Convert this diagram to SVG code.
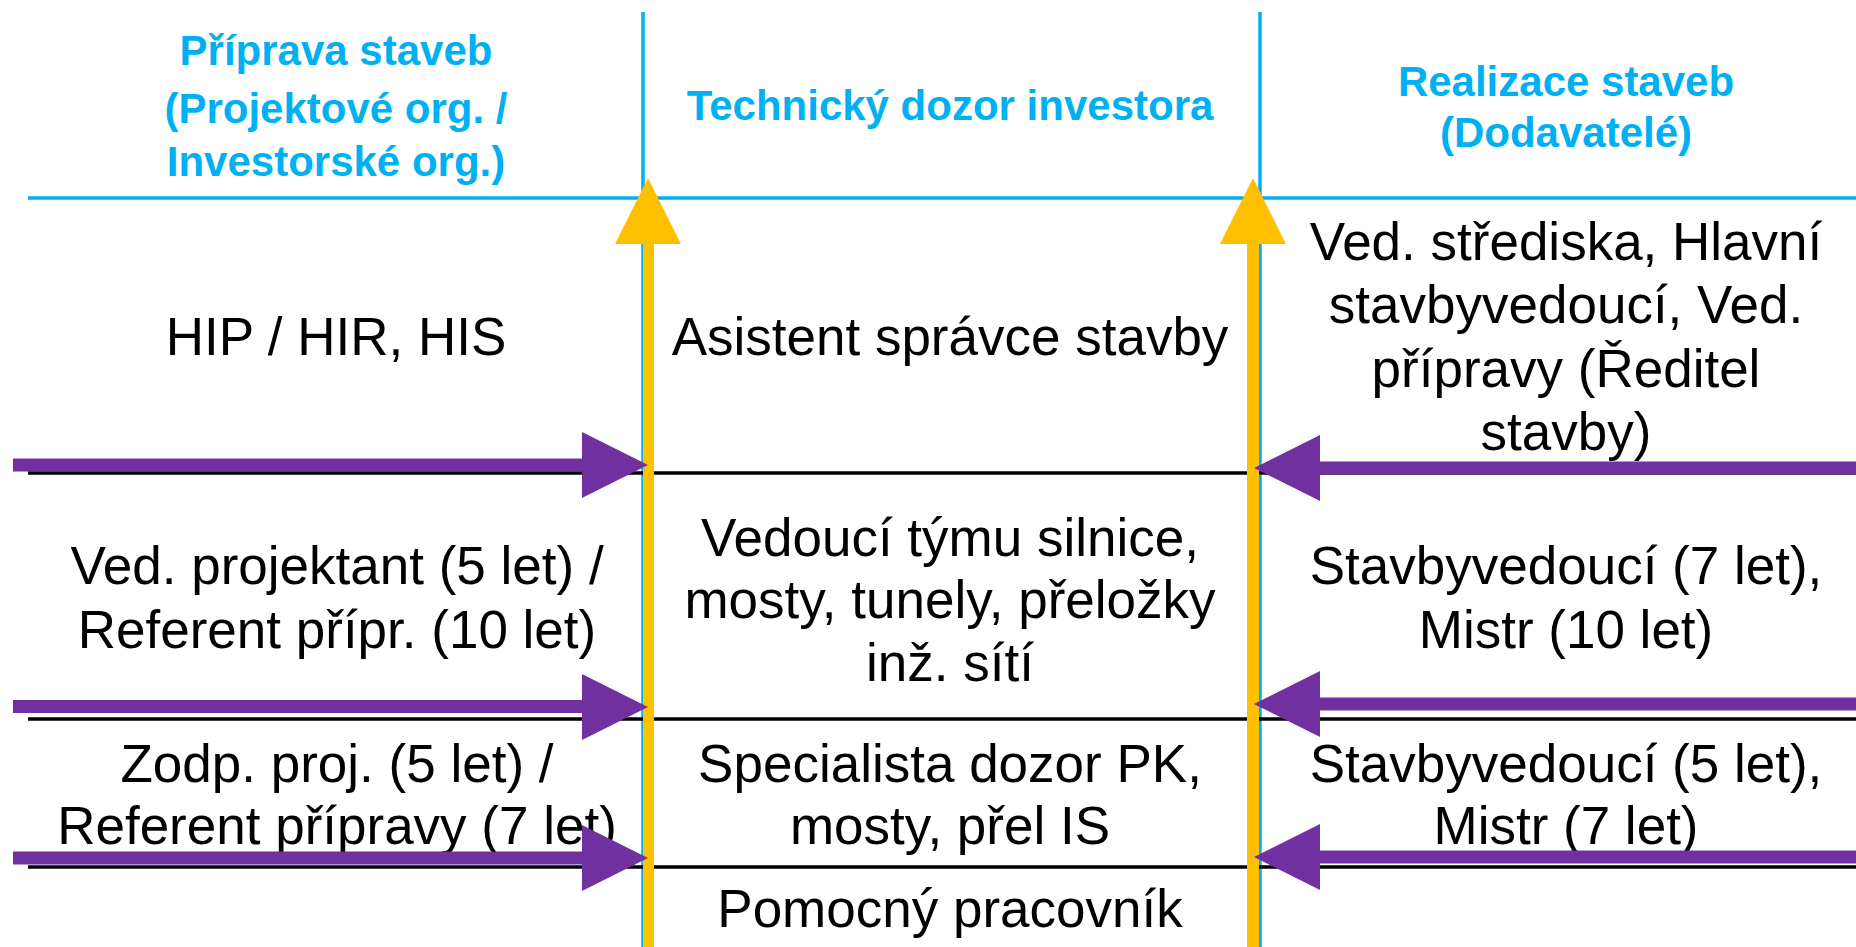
<svg xmlns="http://www.w3.org/2000/svg" width="1856" height="947" viewBox="0 0 1856 947">
<style>
.hd{font-family:"Liberation Sans",Arial,sans-serif;font-weight:bold;font-size:42px;fill:#00B0F0;text-anchor:middle}
.tx{font-family:"Liberation Sans",Arial,sans-serif;font-size:53px;fill:#000;text-anchor:middle}
.bl{stroke:#00B0F0;stroke-width:3.5;fill:none}
.rw{stroke:#000;stroke-width:3.5;fill:none}
.ya{fill:#FFC000}
.pa{fill:#7030A0}
</style>
<rect width="1856" height="947" fill="#fff"/>
<g id="grid">
<line class="bl" x1="643" y1="12" x2="643" y2="947"/>
<line class="bl" x1="1260" y1="12" x2="1260" y2="947"/>
<line class="bl" x1="28" y1="198" x2="1856" y2="198"/>
<line class="rw" x1="28" y1="473" x2="1856" y2="473"/>
<line class="rw" x1="28" y1="719" x2="1856" y2="719"/>
<line class="rw" x1="28" y1="867" x2="1856" y2="867"/>
</g>
<g id="header-left">
<text class="hd" x="336" y="65">Příprava staveb</text>
<text class="hd" x="336" y="123">(Projektové org. /</text>
<text class="hd" x="336" y="176">Investorské org.)</text>
</g>
<g id="header-mid">
<text class="hd" x="950" y="120">Technický dozor investora</text>
</g>
<g id="header-right">
<text class="hd" x="1566" y="96">Realizace staveb</text>
<text class="hd" x="1566" y="147">(Dodavatelé)</text>
</g>
<g id="r1-left"><text class="tx" x="336" y="355">HIP / HIR, HIS</text></g>
<g id="r1-mid"><text class="tx" x="950" y="355">Asistent správce stavby</text></g>
<g id="r1-right">
<text class="tx" x="1566" y="260">Ved. střediska, Hlavní</text>
<text class="tx" x="1566" y="323">stavbyvedoucí, Ved.</text>
<text class="tx" x="1566" y="387">přípravy (Ředitel</text>
<text class="tx" x="1566" y="450">stavby)</text>
</g>
<g id="r2-left">
<text class="tx" x="337" y="584">Ved. projektant (5 let) /</text>
<text class="tx" x="337" y="648">Referent přípr. (10 let)</text>
</g>
<g id="r2-mid">
<text class="tx" x="950" y="556">Vedoucí týmu silnice,</text>
<text class="tx" x="950" y="618">mosty, tunely, přeložky</text>
<text class="tx" x="950" y="681">inž. sítí</text>
</g>
<g id="r2-right">
<text class="tx" x="1566" y="584">Stavbyvedoucí (7 let),</text>
<text class="tx" x="1566" y="648">Mistr (10 let)</text>
</g>
<g id="r3-left">
<text class="tx" x="337" y="782">Zodp. proj. (5 let) /</text>
<text class="tx" x="337" y="844">Referent přípravy (7 let)</text>
</g>
<g id="r3-mid">
<text class="tx" x="950" y="782">Specialista dozor PK,</text>
<text class="tx" x="950" y="844">mosty, přel IS</text>
</g>
<g id="r3-right">
<text class="tx" x="1566" y="782">Stavbyvedoucí (5 let),</text>
<text class="tx" x="1566" y="844">Mistr (7 let)</text>
</g>
<g id="r4-mid"><text class="tx" x="950" y="927">Pomocný pracovník</text></g>
<g id="connectors">
<polygon class="ya" points="643,947 643,244 615,244 648,178 681,244 654,244 654,947"/>
<polygon class="ya" points="1247,947 1247,244 1220,244 1253,178 1286,244 1259,244 1259,947"/>
<polygon class="pa" points="13,458.5 582,458.5 582,432 648,465 582,498 582,471.5 13,471.5"/>
<polygon class="pa" points="13,700 582,700 582,674 648,707 582,740 582,713 13,713"/>
<polygon class="pa" points="13,851.5 582,851.5 582,825 648,858 582,891 582,864.5 13,864.5"/>
<polygon class="pa" points="1856,461.5 1320,461.5 1320,435 1254,468 1320,501 1320,474.5 1856,474.5"/>
<polygon class="pa" points="1856,697.5 1320,697.5 1320,671 1254,704 1320,737 1320,710.5 1856,710.5"/>
<polygon class="pa" points="1856,850.5 1320,850.5 1320,824 1254,857 1320,890 1320,863.5 1856,863.5"/>
</g>
</svg>
